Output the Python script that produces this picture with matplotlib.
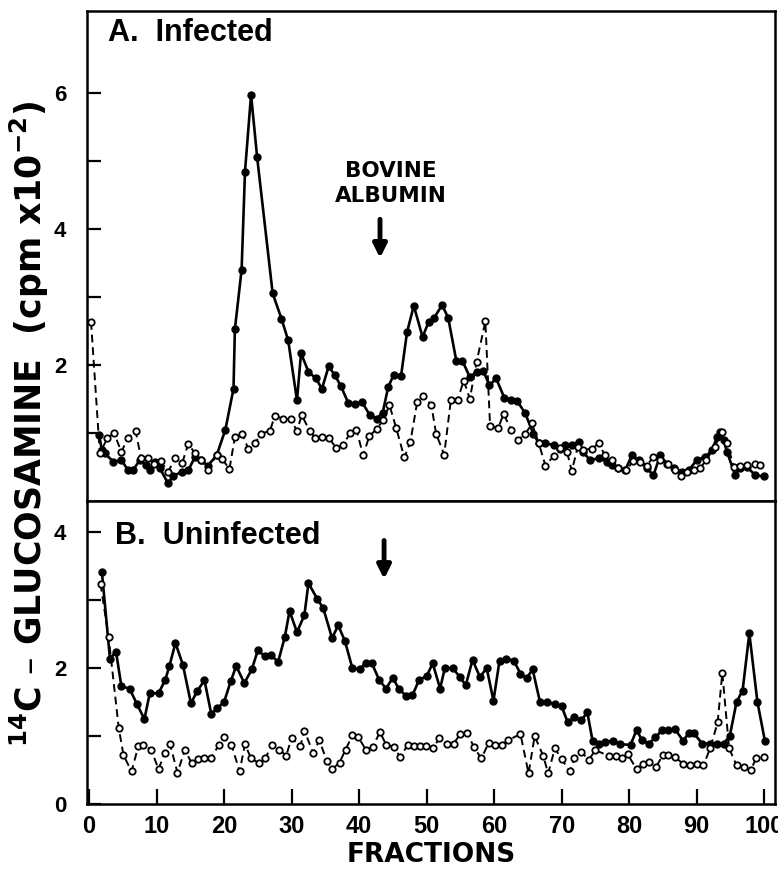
import matplotlib
matplotlib.use("Agg")
import matplotlib.pyplot as plt

plt.rcParams['font.family'] = ['Liberation Sans', 'DejaVu Sans']
plt.rcParams['font.weight'] = 'bold'

# Panel A (infected) - solid line, filled circles
inf_fx = [1.5, 1.9, 2.3, 3.6, 4.8, 5.8, 6.5, 7.5, 8.5, 9.0, 9.7, 10.5, 11.7, 12.4, 13.7,
          14.7, 15.7, 16.6, 17.6, 18.9, 20.2, 21.4, 21.6, 22.6, 23.1, 24.0, 24.9, 27.2,
          28.5, 29.5, 30.8, 31.4, 32.5, 33.6, 34.5, 35.5, 36.4, 37.3, 38.4, 39.4, 40.4,
          41.6, 42.6, 43.5, 44.3, 45.1, 46.2, 47.1, 48.1, 49.4, 50.3, 51.1, 52.3, 53.2,
          54.4, 55.3, 56.4, 57.4, 58.4, 59.3, 60.3, 61.5, 62.5, 63.4, 64.6, 65.8, 66.6,
          67.6, 68.8, 69.8, 70.5, 71.5, 72.5, 73.2, 74.2, 75.5, 76.7, 77.4, 78.4, 79.4,
          80.4, 81.4, 82.6, 83.6, 84.6, 85.6, 86.6, 87.8, 88.8, 90.0, 91.3, 92.3, 93.0,
          93.5, 94.0, 94.5, 95.7, 96.4, 97.4, 98.7, 99.9]
inf_fy = [0.97, 0.75, 0.70, 0.58, 0.60, 0.45, 0.45, 0.60, 0.53, 0.45, 0.58, 0.48, 0.26, 0.36, 0.43,
          0.45, 0.65, 0.60, 0.52, 0.67, 1.05, 1.65, 2.52, 3.40, 4.84, 5.97, 5.05, 3.05,
          2.68, 2.36, 1.48, 2.17, 1.90, 1.80, 1.65, 1.98, 1.85, 1.69, 1.44, 1.42, 1.46,
          1.26, 1.21, 1.30, 1.67, 1.85, 1.83, 2.48, 2.87, 2.41, 2.63, 2.69, 2.88, 2.69,
          2.06, 2.06, 1.82, 1.90, 1.91, 1.70, 1.80, 1.52, 1.48, 1.47, 1.29, 0.99, 0.85,
          0.85, 0.82, 0.77, 0.82, 0.82, 0.87, 0.72, 0.60, 0.63, 0.58, 0.53, 0.48, 0.45,
          0.67, 0.60, 0.48, 0.38, 0.67, 0.55, 0.48, 0.43, 0.45, 0.60, 0.65, 0.75, 0.94,
          1.02, 0.89, 0.72, 0.38, 0.48, 0.50, 0.38, 0.36]

# Panel A (infected) - dashed line, open circles
inf_ox = [0.3, 1.6, 2.7, 3.7, 4.8, 5.7, 6.9, 7.7, 8.7, 9.6, 10.6, 11.7, 12.8, 13.8, 14.7,
          15.7, 16.6, 17.6, 18.9, 19.7, 20.8, 21.6, 22.7, 23.6, 24.6, 25.5, 26.8, 27.5,
          28.8, 29.9, 30.8, 31.5, 32.7, 33.5, 34.5, 35.5, 36.6, 37.6, 38.7, 39.6, 40.6,
          41.5, 42.6, 43.6, 44.5, 45.5, 46.7, 47.6, 48.6, 49.5, 50.7, 51.4, 52.6, 53.6,
          54.6, 55.5, 56.4, 57.4, 58.7, 59.4, 60.6, 61.4, 62.5, 63.5, 64.6, 65.6, 66.6,
          67.6, 68.8, 69.7, 70.8, 71.5, 72.4, 73.2, 74.5, 75.5, 76.4, 77.4, 78.4, 79.6,
          80.6, 81.6, 82.6, 83.6, 84.6, 85.8, 86.8, 87.7, 88.6, 89.6, 90.5, 91.4, 92.7,
          93.7, 94.5, 95.5, 96.4, 97.4, 98.7, 99.4]
inf_oy = [2.63, 0.70, 0.92, 1.00, 0.72, 0.92, 1.03, 0.63, 0.63, 0.55, 0.59, 0.43, 0.63, 0.56, 0.84,
          0.70, 0.60, 0.46, 0.67, 0.62, 0.47, 0.94, 0.99, 0.76, 0.85, 0.99, 1.03, 1.25,
          1.21, 1.20, 1.03, 1.26, 1.03, 0.93, 0.94, 0.93, 0.78, 0.82, 1.00, 1.05, 0.67,
          0.95, 1.06, 1.19, 1.41, 1.07, 0.64, 0.87, 1.45, 1.55, 1.41, 0.99, 0.68, 1.49,
          1.49, 1.77, 1.50, 2.04, 2.64, 1.10, 1.07, 1.28, 1.05, 0.90, 0.98, 1.14, 0.85,
          0.52, 0.66, 0.78, 0.72, 0.44, 0.80, 0.75, 0.77, 0.85, 0.67, 0.60, 0.49, 0.45,
          0.59, 0.58, 0.52, 0.65, 0.60, 0.55, 0.45, 0.36, 0.43, 0.45, 0.48, 0.60, 0.80,
          1.02, 0.85, 0.50, 0.52, 0.53, 0.54, 0.53]

# Panel B (uninfected) - solid line, filled circles
uni_fx = [1.9, 3.1, 4.0, 4.8, 6.0, 7.1, 8.2, 9.0, 10.3, 11.3, 11.9, 12.8, 13.9, 15.1, 16.0,
          17.1, 18.1, 19.0, 20.0, 21.0, 21.8, 23.0, 24.1, 25.0, 26.0, 26.9, 28.0, 29.0,
          29.7, 30.8, 31.9, 32.5, 33.8, 34.7, 36.0, 36.9, 37.9, 39.0, 40.1, 41.0, 41.9,
          43.0, 44.0, 45.0, 45.9, 47.0, 47.9, 48.9, 50.0, 50.9, 52.0, 52.7, 53.9, 54.9,
          55.8, 56.8, 57.9, 58.9, 59.9, 60.8, 61.8, 62.9, 63.9, 64.8, 65.7, 66.8, 67.9,
          69.0, 70.0, 70.9, 71.8, 72.9, 73.8, 74.6, 75.5, 76.4, 77.6, 78.7, 80.2, 81.1,
          81.9, 82.9, 83.9, 84.9, 85.8, 86.8, 88.0, 88.8, 89.6, 90.8, 92.0, 93.0, 94.0,
          94.9, 95.9, 96.8, 97.8, 99.0, 100.1]
uni_fy = [3.42, 2.14, 2.24, 1.73, 1.70, 1.47, 1.25, 1.63, 1.63, 1.83, 2.03, 2.37, 2.05, 1.48, 1.66,
          1.82, 1.33, 1.41, 1.50, 1.81, 2.03, 1.78, 1.98, 2.26, 2.18, 2.20, 2.09, 2.46,
          2.84, 2.53, 2.78, 3.25, 3.02, 2.88, 2.44, 2.63, 2.40, 2.00, 1.98, 2.08, 2.07,
          1.82, 1.70, 1.86, 1.69, 1.59, 1.60, 1.83, 1.88, 2.07, 1.70, 2.00, 2.00, 1.87,
          1.75, 2.12, 1.87, 2.00, 1.52, 2.11, 2.14, 2.11, 1.92, 1.85, 1.98, 1.50, 1.50,
          1.47, 1.44, 1.20, 1.28, 1.23, 1.35, 0.92, 0.89, 0.91, 0.93, 0.88, 0.87, 1.09,
          0.94, 0.89, 0.98, 1.09, 1.09, 1.10, 0.93, 1.04, 1.04, 0.89, 0.89, 0.88, 0.89,
          1.00, 1.50, 1.67, 2.51, 1.50, 0.93]

# Panel B (uninfected) - dashed line, open circles
uni_ox = [1.7, 2.9, 4.4, 5.1, 6.3, 7.3, 8.0, 9.2, 10.3, 11.2, 12.0, 13.1, 14.2, 15.2, 16.1,
          17.1, 18.1, 19.2, 20.0, 21.1, 22.3, 23.1, 24.0, 25.2, 26.1, 27.1, 28.2, 29.2,
          30.0, 31.3, 31.9, 33.2, 34.1, 35.2, 36.0, 37.1, 38.0, 39.0, 39.9, 41.0, 42.0,
          43.1, 44.0, 45.1, 46.1, 47.2, 48.1, 49.0, 49.9, 51.0, 51.9, 53.0, 54.0, 55.0,
          56.0, 57.0, 58.1, 59.2, 60.1, 61.1, 62.1, 63.9, 65.1, 66.0, 67.3, 68.0, 69.0,
          70.0, 71.2, 71.9, 72.9, 74.0, 75.0, 77.0, 78.0, 79.0, 79.8, 81.1, 82.0, 83.0,
          84.0, 85.0, 85.8, 86.8, 88.0, 89.0, 90.0, 91.0, 92.0, 93.1, 93.8, 94.8, 95.9,
          97.0, 98.0, 98.8, 99.9]
uni_oy = [3.24, 2.46, 1.12, 0.72, 0.48, 0.85, 0.87, 0.80, 0.51, 0.75, 0.88, 0.46, 0.80, 0.60, 0.66,
          0.67, 0.67, 0.87, 0.99, 0.87, 0.48, 0.88, 0.67, 0.60, 0.67, 0.87, 0.80, 0.71,
          0.97, 0.85, 1.08, 0.75, 0.94, 0.64, 0.51, 0.61, 0.80, 1.01, 0.98, 0.80, 0.84,
          1.06, 0.87, 0.84, 0.69, 0.87, 0.86, 0.86, 0.86, 0.83, 0.97, 0.88, 0.89, 1.03,
          1.05, 0.84, 0.67, 0.90, 0.87, 0.87, 0.94, 1.03, 0.45, 1.00, 0.70, 0.45, 0.82,
          0.66, 0.48, 0.67, 0.77, 0.65, 0.79, 0.71, 0.70, 0.67, 0.73, 0.51, 0.59, 0.62,
          0.55, 0.72, 0.72, 0.69, 0.59, 0.57, 0.59, 0.57, 0.82, 1.20, 1.93, 0.82, 0.57,
          0.55, 0.50, 0.67, 0.69]

x_ticks = [0, 10, 20, 30, 40, 50, 60, 70, 80, 90, 100]
a_ticks = [1, 2, 3, 4, 5, 6]
a_labels = ['', '2', '', '4', '', '6']
b_ticks = [0, 1, 2, 3, 4]
b_labels = ['0', '', '2', '', '4']

fig = plt.figure(figsize=(7.78, 8.73), dpi=100)
W, H = 778, 873
left, right = 87 / W, 775 / W
axA = fig.add_axes([left, 1 - 501 / H, right - left, (501 - 11) / H])
axB = fig.add_axes([left, 1 - 804 / H, right - left, (804 - 501) / H])


def draw(ax, fx, fy, ox, oy):
    ax.plot(fx, fy, '-', color='black', lw=1.9, marker='o', ms=5, mfc='black',
            mec='black', zorder=3)
    ax.plot(ox, oy, color='black', lw=1.4, ls=(0, (4, 2.5)), marker='o', ms=4.6,
            mfc='white', mec='black', mew=1.3, zorder=4)


draw(axA, inf_fx, inf_fy, inf_ox, inf_oy)
draw(axB, uni_fx, uni_fy, uni_ox, uni_oy)

for ax in (axA, axB):
    ax.set_xlim(-0.3, 101.6)
    for s in ax.spines.values():
        s.set_linewidth(1.8)
    ax.tick_params(direction='in', length=10, width=1.6, labelsize=16, pad=15)
    ax.tick_params(axis='x', length=11)

axA.set_ylim(0, 7.2)
axA.set_yticks(a_ticks)
axA.set_yticklabels(a_labels)
axA.set_xticks(x_ticks)
axA.tick_params(axis='x', bottom=False, labelbottom=False)

axB.set_ylim(0, 4.46)
axB.set_yticks(b_ticks)
axB.set_yticklabels(b_labels)
axB.set_xticks(x_ticks)
axB.tick_params(axis='x', pad=8, labelsize=17)
axB.set_xlabel('FRACTIONS', fontsize=19, fontweight='bold', labelpad=3,
               family=['DejaVu Sans'])

axA.text(0.03, 0.955, 'A.  Infected', transform=axA.transAxes, fontsize=22,
         fontweight='bold', va='center', ha='left')
axB.text(0.04, 0.885, 'B.  Uninfected', transform=axB.transAxes, fontsize=22,
         fontweight='bold', va='center', ha='left')

axA.text(44.7, 4.66, 'BOVINE\nALBUMIN', ha='center', va='center', fontsize=15.5,
         fontweight='bold', linespacing=1.3, family=['DejaVu Sans'])
axA.annotate('', xy=(43.1, 3.53), xytext=(43.1, 4.18),
             arrowprops=dict(arrowstyle='-|>', lw=3.5, color='black', mutation_scale=20))
axB.annotate('', xy=(43.7, 3.27), xytext=(43.7, 3.92),
             arrowprops=dict(arrowstyle='-|>', lw=3.5, color='black', mutation_scale=20))

fig.text(0.038, 0.515, r'$^{\mathbf{14}}$C – GLUCOSAMINE  (cpm x10$^{\mathbf{-2}}$)',
         rotation=90, ha='center', va='center', fontsize=25, fontweight='bold',
         family=['DejaVu Sans'])

fig.savefig('out.png', dpi=100)
